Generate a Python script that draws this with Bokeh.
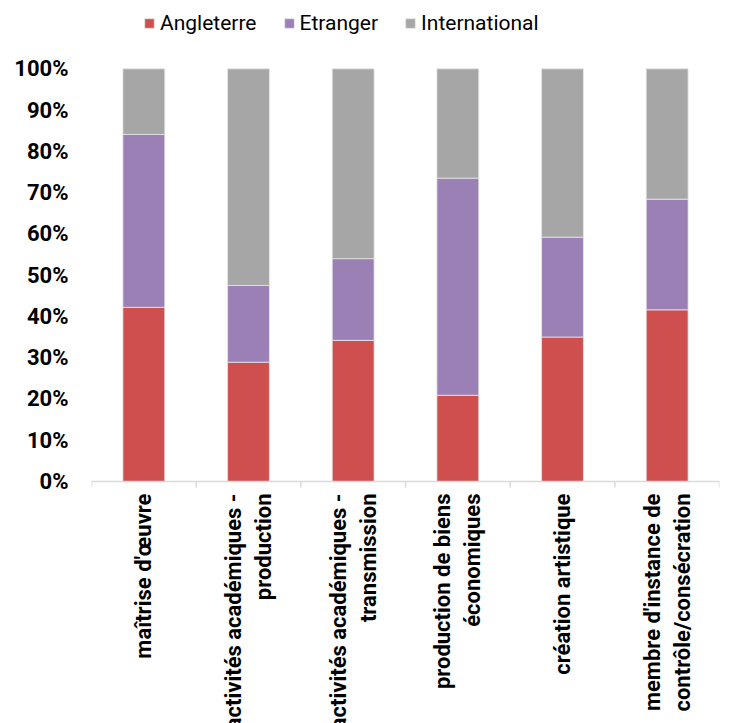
import math
from bokeh.plotting import figure
from bokeh.models import (ColumnDataSource, FixedTicker, NumeralTickFormatter,
                          LinearAxis, Legend, LegendItem, Range1d)
from bokeh.core.properties import value
from bokeh.embed import file_html
from bokeh.resources import INLINE

categories = ["maîtrise d'œuvre",
              "activités académiques -\nproduction",
              "activités académiques -\ntransmission",
              "production de biens\néconomiques",
              "création artistique",
              "membre d'instance de\ncontrôle/consécration"]
angleterre = [0.422, 0.289, 0.342, 0.209, 0.350, 0.416]
etranger = [0.419, 0.186, 0.198, 0.526, 0.242, 0.268]
international = [0.159, 0.525, 0.460, 0.265, 0.408, 0.316]
series = ["Angleterre", "Etranger", "International"]
colors = ["#CF4F4F", "#9B80B6", "#A6A6A6"]
y_ticks = [0, 0.1, 0.2, 0.3, 0.4, 0.5, 0.6, 0.7, 0.8, 0.9, 1.0]

FONT = "Roboto"
n = len(categories)
xc = [i + 0.5 for i in range(n)]

W, H = 749, 723
LEFT, RIGHT = 91, 30
Y0_PX, Y100_PX = 481.0, 68.3          # pixel rows of 0% and 100%
PX = Y0_PX - Y100_PX                   # pixels per unit (100%)
y_end = 1 + Y100_PX / PX
y_start = -(H - Y0_PX) / PX

src = ColumnDataSource(dict(x=xc, Angleterre=angleterre, Etranger=etranger,
                            International=international))

p = figure(width=W, height=H, output_backend="svg", toolbar_location=None,
           x_range=Range1d(0, n), y_range=Range1d(y_start, y_end),
           x_axis_location=None, y_axis_location=None,
           min_border_left=LEFT, min_border_right=RIGHT, min_border_top=0,
           min_border_bottom=0, outline_line_color=None)
p.grid.visible = False

renderers = p.vbar_stack(series, x="x", width=0.4, color=colors, source=src,
                         line_color="#e6e6e6", line_width=0.8)

# y axis
yax = LinearAxis(ticker=FixedTicker(ticks=y_ticks),
                 formatter=NumeralTickFormatter(format="0%"))
yax.axis_line_color = None
yax.major_tick_line_color = None
yax.minor_tick_line_color = None
yax.major_tick_out = 0
yax.major_tick_in = 0
yax.major_label_standoff = 23
yax.major_label_text_font = FONT
yax.major_label_text_font_style = "bold"
yax.major_label_text_font_size = "22px"
yax.major_label_text_color = "#000000"
p.add_layout(yax, "left")

# category axis: baseline and boundary ticks
bounds = list(range(n + 1))
p.segment(x0=[0], y0=[0], x1=[n], y1=[0], line_color="#d9d9d9", line_width=1.5)
p.segment(x0=bounds, y0=[0] * len(bounds), x1=bounds, y1=[-6 / PX] * len(bounds),
          line_color="#d9d9d9", line_width=1.5)

# category labels (rotated, reading bottom to top)
p.text(x=xc, y=[-12 / PX] * n, text=categories, angle=math.pi / 2,
       text_align="right", text_baseline="middle",
       text_font=value(FONT), text_font_style="bold", text_font_size="22px",
       text_color="#000000", text_line_height=1.2)

legend = Legend(items=[LegendItem(label=s, renderers=[r]) for s, r in zip(series, renderers)],
                orientation="horizontal", location=(52, 688),
                label_text_font=FONT, label_text_font_size="21px",
                label_text_color="#000000", glyph_width=12, glyph_height=12,
                spacing=26, label_standoff=5, border_line_color=None,
                background_fill_alpha=0, padding=0, margin=0)
p.add_layout(legend, "center")

open("out.html", "w").write(file_html(p, INLINE))
